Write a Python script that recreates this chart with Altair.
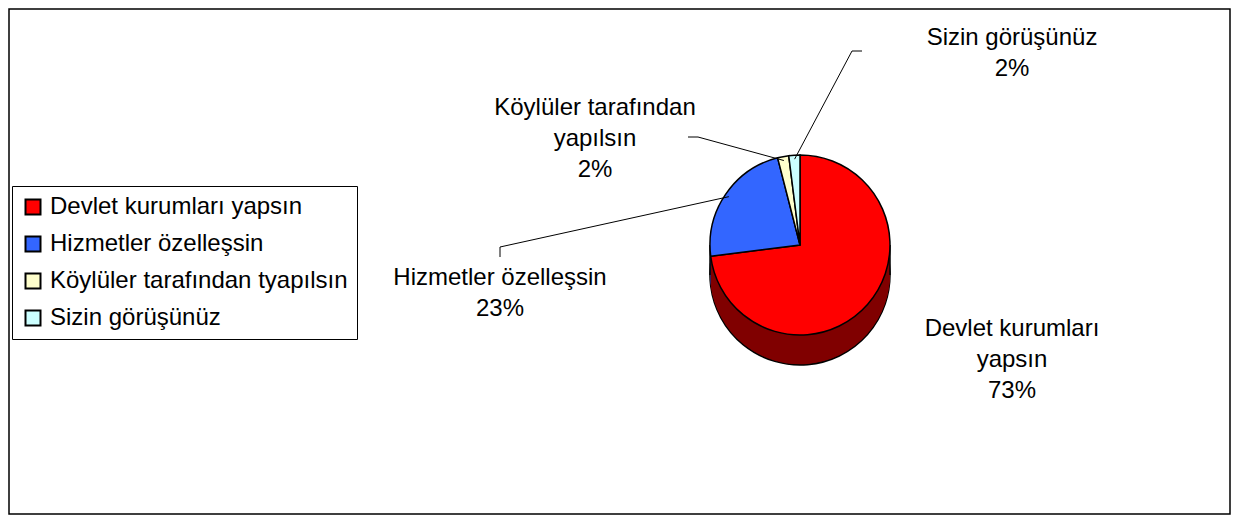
import math
import altair as alt
import pandas as pd

# ---- data ----
categories = ["Devlet kurumları yapsın", "Hizmetler özelleşsin",
              "Köylüler tarafından tyapılsın", "Sizin görüşünüz"]
values = [73, 23, 2, 2]
label_names = [["Devlet kurumları", "yapsın"], ["Hizmetler özelleşsin"],
               ["Köylüler tarafından", "yapılsın"], ["Sizin görüşünüz"]]
top_colors = ["#FF0000", "#3366FF", "#FFFFCC", "#CCFFFF"]
side_colors = ["#800000", "#1A3380", "#808066", "#668080"]

# ---- layout (page pixels converted to chart pixels) ----
PAD = 1
OFF = 8 + PAD
W, H = 1221, 505
CX, CY = 800 - OFF, 245 - OFF
R = 90
DEPTH = 30
FONT = "Liberation Sans"
FS = 24
LH = 31
label_pos = [(1012, 317), (500, 266), (595, 96), (1012, 26)]   # center x, top y (page)
leader_start = [None, [(500, 257), (500, 247)], [(688, 137), (698, 137)], [(862, 51), (852, 51)]]

df = pd.DataFrame({"category": categories, "value": values,
                   "side": side_colors, "idx": list(range(len(values)))})

theta = alt.Theta("value:Q", stack=True)
order = alt.Order("idx:Q")

sides = []
for k in range(DEPTH, 0, -1):
    mk = dict(outerRadius=R)
    if k == DEPTH:
        mk.update(stroke="black", strokeWidth=1.5)
    else:
        mk.update(strokeWidth=0)
    sides.append(
        alt.Chart(df).mark_arc(**mk).encode(
            theta=theta, order=order,
            fill=alt.Fill("side:N", scale=None),
            x=alt.value(CX), y=alt.value(CY + k),
        )
    )

# vertical outline of the pie's side wall
edge_df = pd.DataFrame({"ex": [CX - R, CX + R], "ey": [CY, CY], "ey2": [CY + DEPTH, CY + DEPTH]})
edges = alt.Chart(edge_df).mark_rule(color="black", strokeWidth=1.5).encode(
    x=alt.X("ex:Q", scale=None), y=alt.Y("ey:Q", scale=None), y2="ey2:Q"
)

top = alt.Chart(df).mark_arc(outerRadius=R, stroke="black", strokeWidth=1.5).encode(
    theta=theta, order=order,
    color=alt.Color(
        "category:N",
        scale=alt.Scale(domain=categories, range=top_colors),
        legend=alt.Legend(
            orient="none", legendX=12 - OFF, legendY=186 - OFF, title=None,
            symbolType="square", symbolSize=225, symbolStrokeColor="black",
            symbolStrokeWidth=2, symbolOpacity=1,
            labelFont=FONT, labelFontSize=FS, labelColor="black", labelLimit=600,
            labelOffset=5, rowPadding=13, padding=9,
            strokeColor="black", fillColor="white",
        ),
    ),
    x=alt.value(CX), y=alt.value(CY),
)

# leader lines: end points derived from slice mid angles
total = sum(values)
rows = []
cum = 0
for i, v in enumerate(values):
    mid = (cum + v / 2) / total * 2 * math.pi
    cum += v
    if leader_start[i] is None:
        continue
    pts = [(x - OFF, y - OFF) for x, y in leader_start[i]]
    pts.append((CX + (R - 4) * math.sin(mid), CY - (R - 4) * math.cos(mid)))
    for j, (x, y) in enumerate(pts):
        rows.append({"g": i, "o": j, "x": x, "y": y})
lead_df = pd.DataFrame(rows)
leaders = alt.Chart(lead_df).mark_line(color="black", strokeWidth=1).encode(
    x=alt.X("x:Q", scale=None), y=alt.Y("y:Q", scale=None),
    detail="g:N", order="o:Q",
)

# labels
trows = []
for i, (names, v) in enumerate(zip(label_names, values)):
    lines = names + [f"{v}%"]
    cx, ty = label_pos[i]
    for j, t in enumerate(lines):
        trows.append({"t": t, "lx": cx - OFF, "ly": ty - OFF + j * LH})
text_df = pd.DataFrame(trows)
texts = alt.Chart(text_df).mark_text(
    align="center", baseline="top", font=FONT, fontSize=FS, color="black"
).encode(x=alt.X("lx:Q", scale=None), y=alt.Y("ly:Q", scale=None), text="t:N")

chart = alt.layer(*sides, edges, top, leaders, texts).properties(
    width=W, height=H, padding=PAD, autosize="none"
).configure_view(stroke="black", strokeWidth=1.5)

chart.save("out.html", embed_options={"renderer": "svg", "actions": False})
